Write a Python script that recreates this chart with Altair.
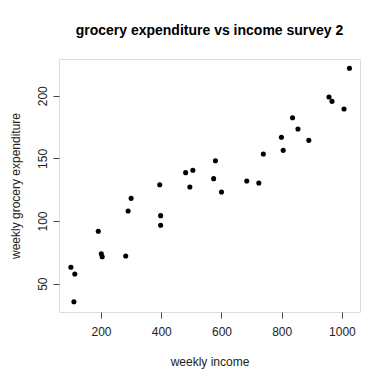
import altair as alt
import pandas as pd

income = [100, 113, 110, 191, 201, 204, 282, 290, 300, 395, 398, 398, 481, 505, 495,
          574, 580, 600, 684, 724, 739, 799, 805, 836, 854, 890, 957, 967, 1007, 1025]
grocery = [63.1, 57.7, 35.6, 91.8, 73.9, 71.5, 72.1, 108, 118.1, 129, 104.3, 96.6, 138.6, 140.5, 127.2,
           133.8, 148.1, 123.2, 131.9, 130.3, 153.5, 166.8, 156.4, 182.4, 173.4, 164.4, 199, 195.5, 189.4, 221.9]
x_ticks = [200, 400, 600, 800, 1000]
y_ticks = [50, 100, 150, 200]

df = pd.DataFrame({"income": income, "grocery": grocery})

FONT = "Liberation Sans"

chart = alt.Chart(df).mark_circle(color="black", opacity=1, size=26).encode(
    x=alt.X("income:Q",
            scale=alt.Scale(domain=[60.5, 1060], nice=False, zero=False),
            axis=alt.Axis(title="weekly income", values=x_ticks, format="d", grid=False, domain=False,
                          tickSize=6, tickColor="#444", labelPadding=8, labelFontSize=12,
                          labelColor="#222", labelFont=FONT, titleFont=FONT, titleFontSize=12,
                          titleFontWeight="normal", titleColor="#222", titlePadding=19)),
    y=alt.Y("grocery:Q",
            scale=alt.Scale(domain=[27.4, 229.3], nice=False, zero=False),
            axis=alt.Axis(title="weekly grocery expenditure", values=y_ticks, format="d", grid=False, domain=False,
                          tickSize=6, tickColor="#444", labelPadding=4, labelFontSize=12,
                          labelAngle=-90, labelAlign="center", labelBaseline="bottom",
                          labelColor="#222", labelFont=FONT, titleFont=FONT, titleFontSize=12,
                          titleFontWeight="normal", titleColor="#222", titlePadding=14)),
).properties(
    width=301,
    height=253,
    title=alt.TitleParams("grocery expenditure vs income survey 2", font=FONT, fontSize=14,
                          fontWeight="bold", color="black", anchor="middle", offset=21),
    autosize=alt.AutoSizeParams(type="none"),
    padding={"left": 51, "top": 51, "right": 23, "bottom": 65},
).configure_view(stroke="#444", strokeWidth=1).configure(background="white")

chart.save("out.html", embed_options={"renderer": "svg", "actions": False})
